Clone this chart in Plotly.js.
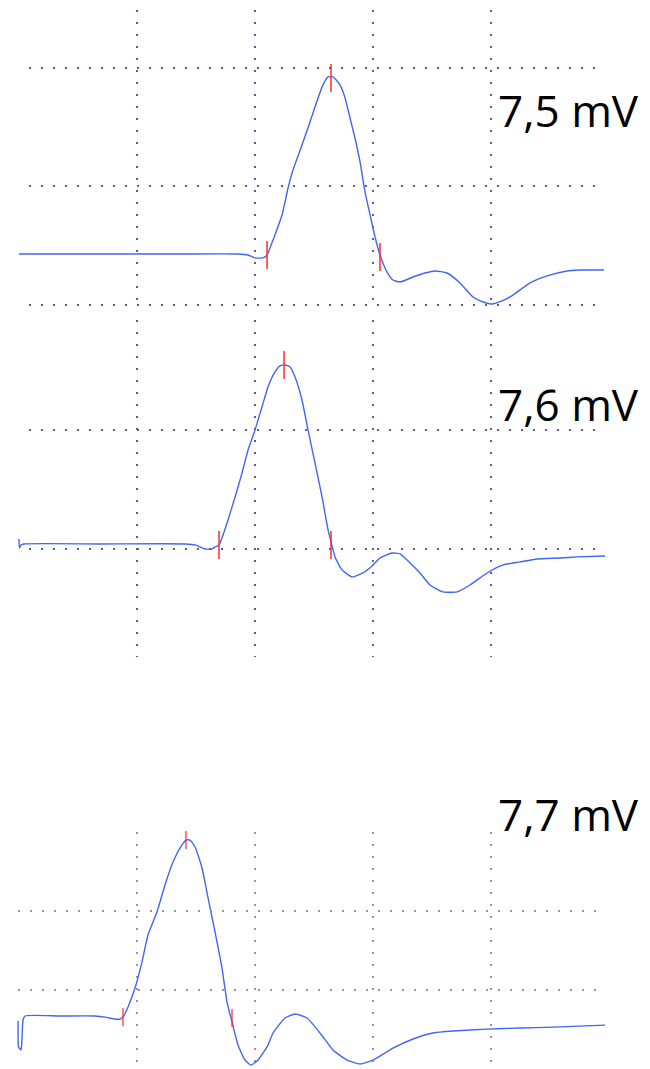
<!DOCTYPE html>
<html><head><meta charset="utf-8">
<script src="https://cdn.plot.ly/plotly-3.0.1.min.js"></script>
<style>html,body{margin:0;padding:0;background:#fff}#chart{width:650px;height:1069px}</style>
</head><body><div id="chart"></div>
<script>
// Amplitude labels
const labels = ["7,5 mV", "7,6 mV", "7,7 mV"];

// Grid positions (time divisions and amplitude divisions)
const gridT = [1, 2, 3, 4];
const grid1 = [0, 1, 2];
const grid2 = [0, 1];
const grid3 = [0, 0.669];

// Waveform 1 (7,5 mV)
const t1 = [0, 0.686, 1.364, 1.847, 1.941, 2.000, 2.068, 2.102, 2.127, 2.169, 2.229, 2.280, 2.322, 2.398, 2.466, 2.534, 2.576, 2.619, 2.661, 2.720, 2.763, 2.805, 2.847, 2.890, 2.932, 2.975, 3.017, 3.059, 3.119, 3.169, 3.229, 3.339, 3.441, 3.525, 3.627, 3.737, 3.847, 3.932, 4.008, 4.093, 4.186, 4.331, 4.475, 4.644, 4.754, 4.958];
const v1 = [0.430, 0.430, 0.430, 0.430, 0.422, 0.397, 0.397, 0.422, 0.481, 0.591, 0.759, 0.987, 1.139, 1.350, 1.544, 1.747, 1.857, 1.924, 1.924, 1.857, 1.747, 1.578, 1.409, 1.207, 0.954, 0.759, 0.574, 0.422, 0.278, 0.211, 0.194, 0.236, 0.270, 0.287, 0.270, 0.186, 0.068, 0.025, 0.008, 0.034, 0.084, 0.186, 0.245, 0.287, 0.295, 0.295];
const m1t = [2.102, 2.644, 3.059];
const m1v = [0.422, 1.916, 0.405];

// Waveform 2 (7,6 mV)
const t2 = [0, 0.004, 0.017, 0.042, 0.686, 1.407, 1.492, 1.576, 1.636, 1.661, 1.695, 1.720, 1.771, 1.831, 1.890, 1.941, 2.000, 2.059, 2.110, 2.169, 2.212, 2.254, 2.297, 2.339, 2.398, 2.449, 2.508, 2.568, 2.619, 2.653, 2.678, 2.737, 2.822, 2.915, 2.992, 3.059, 3.161, 3.229, 3.314, 3.398, 3.483, 3.593, 3.712, 3.822, 3.966, 4.102, 4.246, 4.390, 4.585, 4.729, 4.966];
const v2 = [0.084, 0.008, 0.034, 0.042, 0.042, 0.042, 0.034, 0.000, 0.000, 0.017, 0.034, 0.092, 0.244, 0.437, 0.639, 0.832, 1.000, 1.193, 1.361, 1.487, 1.538, 1.546, 1.529, 1.445, 1.252, 1.000, 0.723, 0.437, 0.160, 0.025, -0.067, -0.176, -0.235, -0.202, -0.143, -0.076, -0.034, -0.042, -0.118, -0.202, -0.303, -0.361, -0.361, -0.303, -0.202, -0.134, -0.109, -0.084, -0.076, -0.067, -0.059];
const m2t = [1.695, 2.246, 2.644];
const m2v = [0.034, 1.546, 0.034];

// Waveform 3 (7,7 mV)
const t3 = [-0.008, -0.004, 0.008, 0.017, 0.025, 0.034, 0.051, 0.347, 0.644, 0.729, 0.814, 0.856, 0.881, 0.924, 0.983, 1.042, 1.093, 1.169, 1.237, 1.305, 1.381, 1.415, 1.449, 1.492, 1.551, 1.602, 1.661, 1.720, 1.763, 1.805, 1.856, 1.915, 1.966, 2.025, 2.110, 2.153, 2.254, 2.339, 2.441, 2.551, 2.661, 2.780, 2.890, 3.000, 3.169, 3.339, 3.508, 3.678, 3.966, 4.246, 4.525, 4.966];
const v3 = [-0.263, -0.483, -0.500, -0.508, -0.424, -0.254, -0.220, -0.220, -0.220, -0.229, -0.246, -0.246, -0.229, -0.144, 0.017, 0.237, 0.466, 0.661, 0.890, 1.085, 1.229, 1.271, 1.271, 1.212, 1.034, 0.780, 0.492, 0.186, -0.102, -0.271, -0.466, -0.593, -0.636, -0.593, -0.466, -0.364, -0.237, -0.203, -0.237, -0.364, -0.508, -0.593, -0.627, -0.593, -0.492, -0.415, -0.364, -0.347, -0.331, -0.322, -0.314, -0.297];
const m3t = [0.881, 1.415, 1.805];
const m3v = [-0.229, 1.271, -0.237];

const waveColor = '#4266f2';
const tickColor = '#ff2b2b';
const dotColor = '#5a5aa0';
const dotColor3 = '#9494b0';

function wave(t, v, ya, xa) {
  return {x: t, y: v, xaxis: xa, yaxis: ya, type: 'scatter', mode: 'lines',
    line: {color: waveColor, width: 1.4, shape: 'spline', smoothing: 0.5}, hoverinfo: 'skip'};
}
function marks(t, v, ya, xa, size, w) {
  return {x: t, y: v, xaxis: xa, yaxis: ya, type: 'scatter', mode: 'markers', cliponaxis: false,
    marker: {symbol: 'line-ns', size: size, color: tickColor, line: {color: tickColor, width: w}}, hoverinfo: 'skip'};
}
function empty(xa, ya) { return {x: [], y: [], xaxis: xa, yaxis: ya, type: 'scatter', mode: 'lines', hoverinfo: 'skip'}; }

const data = [
  empty('x2', 'y2'), empty('x2', 'y4'), empty('x4', 'y6'),
  wave(t1, v1, 'y', 'x'), marks(m1t, m1v, 'y', 'x', 20, 1.5),
  wave(t2, v2, 'y3', 'x'), marks(m2t, m2v, 'y3', 'x', 20, 1.5),
  wave(t3, v3, 'y5', 'x3'), marks(m3t, m3v, 'y5', 'x3', 13, 1.2)
];

const xr = [-0.161, 5.347];
const hidden = {showticklabels: false, ticks: '', showline: false, zeroline: false, showgrid: false};
const vgrid = (color, w) => Object.assign({}, hidden, {domain: [0, 1], range: xr, showgrid: true, tickmode: 'array', tickvals: gridT,
  gridcolor: color, gridwidth: w, griddash: '2px,10px'});
const hgrid = (dom, rng, vals, color, w, anchor) => Object.assign({}, hidden, {domain: dom, range: rng, anchor: anchor, showgrid: true,
  tickmode: 'array', tickvals: vals, gridcolor: color, gridwidth: w, griddash: '2px,10px'});
const dataY = (dom, rng, anchor) => Object.assign({}, hidden, {domain: dom, range: rng, anchor: anchor});

const d1 = [0.71281, 0.99065], r1 = [-0.017, 2.489];
const d2 = [0.38541, 0.70066], r2 = [-0.908, 1.924];
const d3 = [0, 0.22170], r3 = [-0.669, 1.339];

const annFont = {family: 'Open Sans, Noto Sans, sans-serif', size: 44, color: '#000'};
const layout = {
  width: 650, height: 1069, margin: {l: 0, r: 0, t: 0, b: 0},
  paper_bgcolor: '#fff', plot_bgcolor: 'rgba(0,0,0,0)', showlegend: false,
  xaxis: Object.assign(vgrid(dotColor, 2), {anchor: 'y'}),
  xaxis2: Object.assign({}, hidden, {visible: false, domain: [29/650, 601/650], range: [0, 1], anchor: 'y2'}),
  xaxis3: Object.assign(vgrid(dotColor3, 1.5), {anchor: 'y5'}),
  xaxis4: Object.assign({}, hidden, {visible: false, domain: [18/650, 600/650], range: [0, 1], anchor: 'y6'}),
  yaxis: dataY(d1, r1, 'x'),
  yaxis2: hgrid(d1, r1, grid1, dotColor, 2, 'x2'),
  yaxis3: dataY(d2, r2, 'x'),
  yaxis4: hgrid(d2, r2, grid2, dotColor, 2, 'x2'),
  yaxis5: dataY(d3, r3, 'x3'),
  yaxis6: hgrid(d3, r3, grid3, dotColor3, 1.5, 'x4'),
  annotations: [
    {text: labels[0], xref: 'paper', yref: 'paper', x: 496/650, y: 1 - 110/1069, xanchor: 'left', yanchor: 'middle', showarrow: false, font: annFont},
    {text: labels[1], xref: 'paper', yref: 'paper', x: 496/650, y: 1 - 404/1069, xanchor: 'left', yanchor: 'middle', showarrow: false, font: annFont},
    {text: labels[2], xref: 'paper', yref: 'paper', x: 496/650, y: 1 - 814/1069, xanchor: 'left', yanchor: 'middle', showarrow: false, font: annFont}
  ]
};
Plotly.newPlot('chart', data, layout, {staticPlot: true, displayModeBar: false});
</script>
</body></html>
